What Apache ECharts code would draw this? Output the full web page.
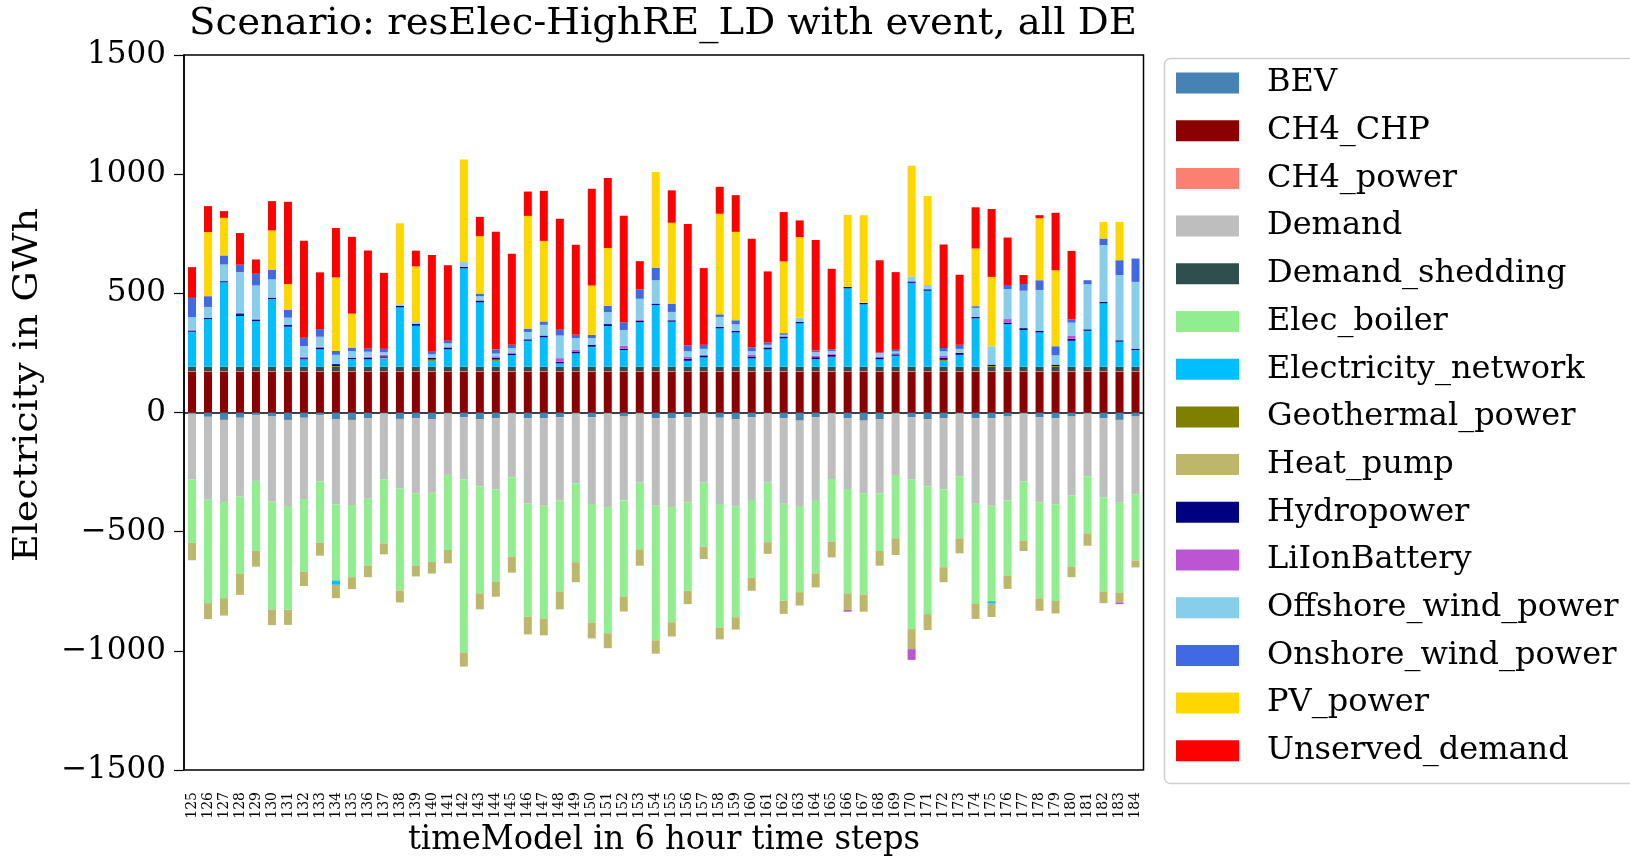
<!DOCTYPE html>
<html>
<head>
<meta charset="utf-8">
<title>Scenario: resElec-HighRE_LD with event, all DE</title>
<script src="https://cdn.jsdelivr.net/npm/echarts/dist/echarts.min.js"></script>
<style>
  html, body { margin: 0; padding: 0; background: #fff; }
  #chart { width: 1630px; height: 860px; }
</style>
</head>
<body>
<div id="chart"></div>
<script>
// Time steps (6 h each)
const timeSteps = [125,126,127,128,129,130,131,132,133,134,135,136,137,138,139,
  140,141,142,143,144,145,146,147,148,149,150,151,152,153,154,
  155,156,157,158,159,160,161,162,163,164,165,166,167,168,169,
  170,171,172,173,174,175,176,177,178,179,180,181,182,183,184];

const yTicks = [-1500, -1000, -500, 0, 500, 1000, 1500];

// Electricity balance per technology, GWh (positive = supply, negative = consumption)
const BEV = [-4,-18,-31,-22,-10,-17,-31,-22,-10,-27,-31,-24,-3,-27,-24,
  -29,-3,-20,-29,-24,-3,-24,-24,-20,-3,-20,-3,-17,-3,-24,
  -24,-20,-3,-22,-29,-20,-3,-24,-34,-20,-3,-24,-34,-29,-3,
  -20,-29,-24,-3,-24,-24,-17,-3,-20,-24,-17,-3,-24,-31,-17];

const CH4_CHP = [172,172,172,172,172,172,172,172,172,172,172,172,172,172,172,
  172,172,172,172,172,172,172,172,172,172,172,172,172,172,172,
  172,172,172,172,172,172,172,172,172,172,172,172,172,172,172,
  172,172,172,172,172,172,172,172,172,172,172,172,172,172,172];

const CH4_power = [2,2,2,2,2,2,2,2,2,2,2,2,2,2,2,
  2,2,2,2,2,2,2,2,2,2,2,2,2,2,2,
  2,2,2,2,2,2,2,2,2,2,2,2,2,2,2,
  2,2,2,2,2,2,2,2,2,2,2,2,2,2,2];

const Demand = [-277,-348,-345,-331,-277,-357,-361,-341,-280,-358,-357,-338,-277,-291,-315,
  -308,-259,-260,-280,-299,-269,-357,-367,-350,-294,-364,-394,-352,-291,-367,
  -373,-357,-291,-362,-364,-347,-291,-359,-358,-347,-276,-297,-305,-310,-259,
  -260,-280,-298,-266,-359,-367,-352,-287,-357,-361,-331,-266,-333,-347,-326];

const Demand_shedding = [18,18,18,18,18,18,18,18,18,18,18,18,18,18,18,
  18,18,18,18,18,18,18,18,18,18,18,18,18,18,18,
  18,18,18,18,18,18,18,18,18,18,18,18,18,18,18,
  18,18,18,18,18,18,18,18,18,18,18,18,18,18,18];

const Elec_boiler = [-266,-434,-403,-324,-294,-452,-436,-305,-256,-320,-303,-280,-269,-429,-303,
  -290,-315,-727,-450,-387,-333,-476,-474,-382,-331,-497,-529,-403,-280,-565,
  -483,-371,-269,-519,-466,-326,-250,-407,-362,-308,-263,-438,-424,-242,-266,
  -629,-537,-327,-259,-420,-401,-315,-248,-403,-406,-298,-238,-394,-378,-278];

const Electricity_network = [147,200,354,213,192,284,168,31,73,-18,32,31,35,249,172,
  25,73,413,270,25,49,109,123,11,56,84,171,70,187,259,
  189,25,39,161,144,35,73,119,182,32,42,329,262,31,46,
  352,319,25,46,203,-10,179,154,144,0,109,151,266,105,70];

const Geothermal_power = [0,0,0,0,0,0,0,0,0,3,0,0,3,0,0,
  5,0,0,0,5,0,0,0,4,0,0,0,0,0,0,
  0,0,0,0,0,0,0,0,0,0,0,0,0,0,0,
  0,0,4,4,0,3,0,0,0,3,0,0,0,0,0];

const Heat_pump = [-73,-67,-73,-88,-66,-66,-63,-60,-55,-56,-50,-49,-46,-50,-46,
  -49,-56,-59,-67,-63,-67,-74,-70,-74,-84,-67,-63,-63,-69,-56,
  -60,-56,-52,-49,-52,-55,-49,-55,-56,-59,-66,-70,-73,-62,-70,
  -84,-67,-63,-63,-63,-56,-56,-43,-52,-52,-45,-52,-49,-41,-29];

const Hydropower = [4,5,5,8,5,6,7,5,6,8,6,6,6,6,8,
  8,8,6,8,8,6,6,8,6,8,8,8,6,6,6,
  6,8,6,6,6,8,8,8,6,8,8,6,6,8,6,
  6,6,8,8,6,6,6,8,6,6,8,6,6,6,6];

const LiIonBattery = [4,0,0,5,4,0,0,6,5,0,0,5,6,0,0,
  0,0,0,0,6,5,0,0,15,8,0,0,12,5,0,
  0,8,5,0,0,8,0,0,0,7,5,-7,0,4,5,
  -45,0,8,0,0,0,15,0,0,0,12,0,0,-7,0];

const Offshore_wind_power = [53,46,70,171,140,77,31,45,42,39,28,21,11,7,7,
  14,17,20,18,11,18,31,45,95,48,28,50,66,87,98,
  35,24,25,42,28,14,11,7,18,14,11,0,0,14,7,
  21,18,20,17,38,77,126,157,172,39,56,189,238,274,280];

const Onshore_wind_power = [81,45,38,31,49,39,32,35,32,17,14,14,14,0,0,
  11,11,0,11,17,14,14,14,24,14,14,27,32,39,53,
  34,24,17,11,17,17,10,7,0,7,7,0,0,3,7,
  0,0,14,17,7,0,17,28,41,38,14,17,28,62,98];

const PV_power = [0,269,158,0,0,166,109,0,0,308,143,0,0,340,234,
  0,0,431,241,0,0,473,338,0,0,207,242,0,0,401,
  340,0,0,422,371,0,0,301,338,0,0,302,368,0,0,
  464,373,0,0,242,291,0,0,260,319,0,0,69,161,0];

const Unserved_demand = [129,109,28,133,60,123,345,407,238,207,322,411,319,0,66,
  406,317,0,81,494,382,102,210,466,378,406,294,448,119,0,
  136,510,322,113,154,455,298,207,70,464,338,0,0,387,326,
  0,0,434,294,173,285,199,38,13,241,287,0,0,0,0];

// Technology name, values and colour, in stacking/legend order
const technologies = [
  ['BEV', BEV, '#4682B4'],
  ['CH4_CHP', CH4_CHP, '#8B0000'],
  ['CH4_power', CH4_power, '#FA8072'],
  ['Demand', Demand, '#BEBEBE'],
  ['Demand_shedding', Demand_shedding, '#2F4F4F'],
  ['Elec_boiler', Elec_boiler, '#90EE90'],
  ['Electricity_network', Electricity_network, '#00BFFF'],
  ['Geothermal_power', Geothermal_power, '#808000'],
  ['Heat_pump', Heat_pump, '#BDB76B'],
  ['Hydropower', Hydropower, '#000080'],
  ['LiIonBattery', LiIonBattery, '#BA55D3'],
  ['Offshore_wind_power', Offshore_wind_power, '#87CEEB'],
  ['Onshore_wind_power', Onshore_wind_power, '#4169E1'],
  ['PV_power', PV_power, '#FFD700'],
  ['Unserved_demand', Unserved_demand, '#FF0000']
];

const serif = "'DejaVu Serif', serif";
const serifNarrow = "'DejaVu Serif Condensed', 'DejaVu Serif', serif";

const chart = echarts.init(document.getElementById('chart'), null, { renderer: 'canvas' });

const gridLeft = 184, gridRight = 1143.5, gridTop = 55, gridBottom = 770;

chart.setOption({
  animation: false,
  backgroundColor: '#ffffff',
  grid: {
    left: gridLeft,
    top: gridTop,
    width: gridRight - gridLeft,
    height: gridBottom - gridTop,
    show: true,
    borderColor: '#000',
    borderWidth: 1.5,
    containLabel: false
  },
  legend: {
    orient: 'vertical',
    left: 1176,
    top: 67,
    padding: 0,
    icon: 'rect',
    itemWidth: 63,
    itemHeight: 21,
    itemGap: 15.7,
    selectedMode: false,
    textStyle: {
      fontFamily: serif,
      fontSize: 32,
      color: '#000',
      padding: [0, 0, 0, 23]
    },
    data: technologies.map(t => t[0])
  },
  xAxis: {
    type: 'category',
    data: timeSteps,
    boundaryGap: true,
    axisLine: { lineStyle: { color: '#000', width: 1.5 } },
    axisTick: { alignWithLabel: true, length: 9, lineStyle: { color: '#000', width: 1.2 } },
    axisLabel: {
      interval: 0,
      rotate: 90,
      margin: 22,
      fontFamily: serif,
      fontSize: 14,
      color: '#000'
    },
    splitLine: { show: false }
  },
  yAxis: {
    type: 'value',
    min: yTicks[0],
    max: yTicks[yTicks.length - 1],
    interval: 500,
    axisLine: { show: true, lineStyle: { color: '#000', width: 1.5 } },
    axisTick: { show: true, length: 10, lineStyle: { color: '#000', width: 1.2 } },
    axisLabel: {
      margin: 18,
      fontFamily: serif,
      fontSize: 31,
      color: '#000',
      formatter: v => (v < 0 ? '\u2212' + Math.abs(v) : String(v))
    },
    splitLine: { show: false }
  },
  graphic: [
    {
      type: 'rect',
      left: 1162, top: 56,
      shape: { width: 520, height: 725, r: 6 },
      style: { fill: 'none', stroke: '#d0d0d0', lineWidth: 1.5 },
      z: -1
    },
    {
      type: 'text',
      x: 663, y: 24,
      scaleX: 1.16,
      style: {
        text: 'Scenario: resElec-HighRE_LD with event, all DE',
        fontFamily: serifNarrow, fontSize: 37, fill: '#000',
        align: 'center', verticalAlign: 'middle'
      }
    },
    {
      type: 'text',
      x: 28, y: 385,
      rotation: Math.PI / 2,
      scaleX: 1.28,
      style: {
        text: 'Electricity in GWh',
        fontFamily: serifNarrow, fontSize: 33, fill: '#000',
        align: 'center', verticalAlign: 'middle'
      }
    },
    {
      type: 'text',
      x: 664, y: 840,
      scaleX: 1.084,
      style: {
        text: 'timeModel in 6 hour time steps',
        fontFamily: serifNarrow, fontSize: 33, fill: '#000',
        align: 'center', verticalAlign: 'middle'
      }
    }
  ],
  series: technologies.map(([name, values, color]) => ({
    name: name,
    type: 'bar',
    stack: 'balance',
    barWidth: '50%',
    data: values,
    itemStyle: { color: color },
    emphasis: { disabled: true }
  }))
});
</script>
</body>
</html>
